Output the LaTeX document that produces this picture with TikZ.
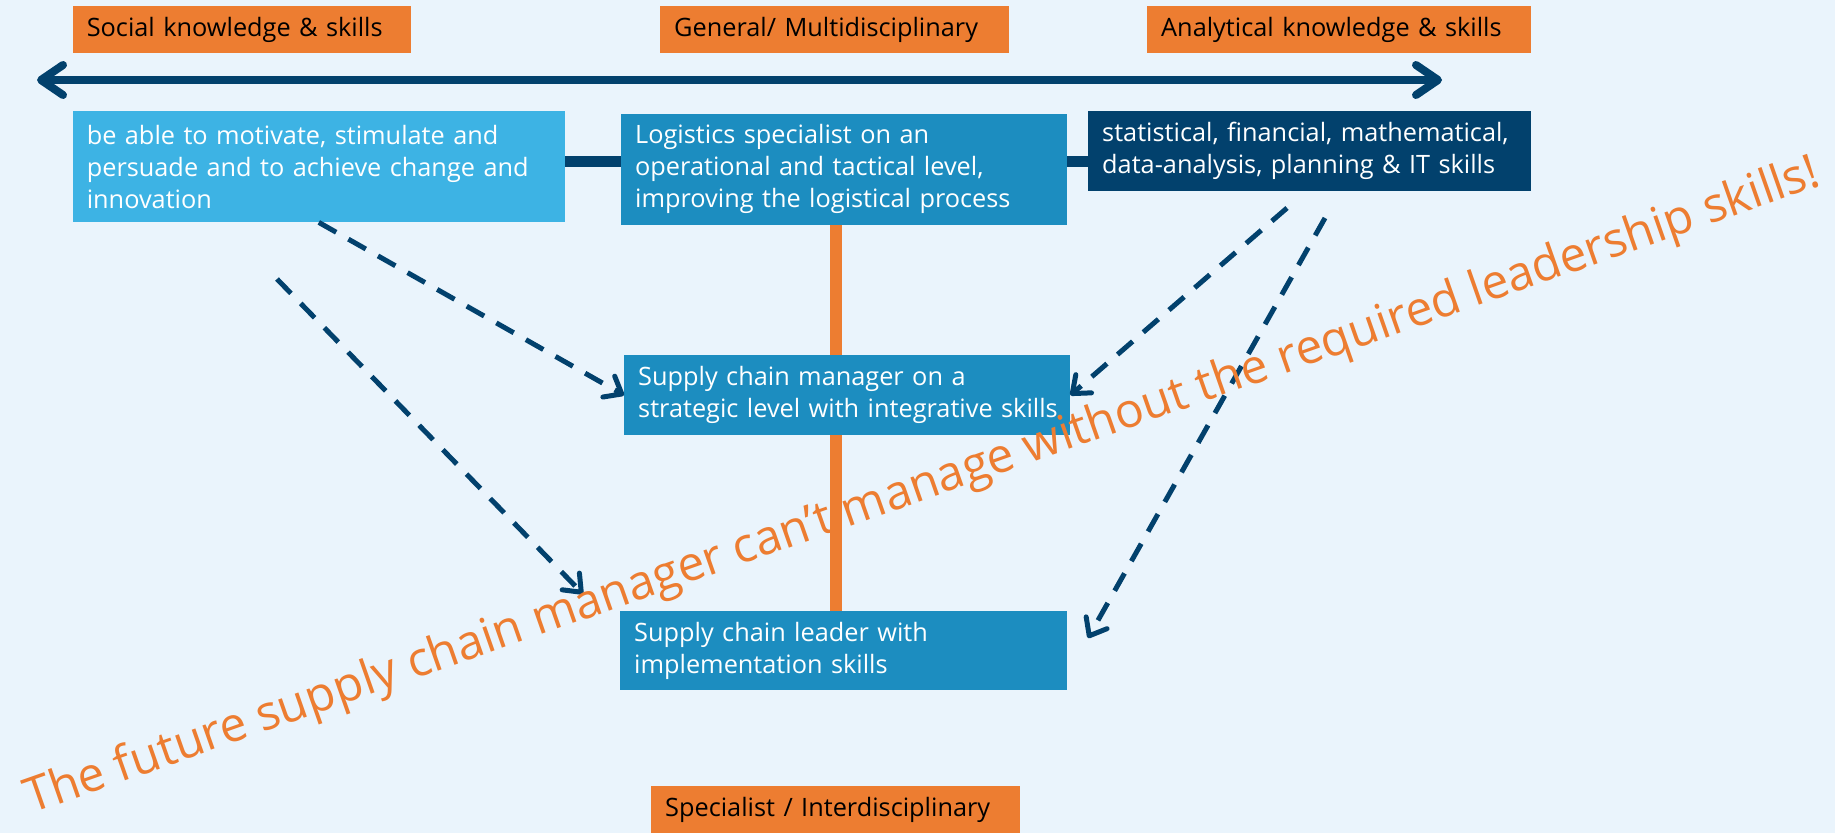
\documentclass[tikz,border=0pt]{standalone}
\usepackage{fontspec}
\setmainfont{Open Sans}
\usepackage{tikz}
\usetikzlibrary{arrows.meta,positioning,calc,backgrounds}
\definecolor{skyblue}{HTML}{3DB3E4}
\definecolor{midblue}{HTML}{1C8DC0}
\definecolor{navy}{HTML}{02416D}
\definecolor{tangerine}{HTML}{ED7D31}
\definecolor{paleblue}{HTML}{EAF4FC}
\pgfdeclarelayer{lines}
\pgfsetlayers{background,lines,main}

\begin{document}
\begin{tikzpicture}[x=1pt,y=-1pt,
  head node/.style={fill=tangerine,text=black,anchor=north west,align=left,inner xsep=14pt,inner ysep=0pt,minimum height=47pt,font=\fontsize{25.3}{32}\selectfont},
  skill node/.style={anchor=north west,text=white,align=left,inner xsep=14pt,inner ysep=0pt,font=\fontsize{25.3}{32}\selectfont},
  dash arrow/.style={navy,line width=5pt,dash pattern=on 20pt off 14pt,-{Straight Barb[length=15pt,width=24pt,round]}}]
	\useasboundingbox (0,0) rectangle (1835,833);
	\begin{pgfonlayer}{background}
		\fill[paleblue] (0,0) rectangle (1835,833);
	\end{pgfonlayer}
					\node[head node,text width=310pt] (social) at (72.6,6) {Social knowledge \& skills};
					\node[head node,text width=321pt] (general) at (660,6) {General/ Multidisciplinary};
					\node[head node,text width=356pt] (analytical) at (1147,6) {Analytical knowledge \& skills};
					\node[head node,text width=341pt] (specialist) at (651,786) {Specialist / Interdisciplinary};
					\node[skill node,fill=skyblue,text width=464pt,minimum height=111pt] (soc) at (72.6,111) {be able to motivate, stimulate and\\persuade and to achieve change and\\innovation};
					\node[skill node,fill=midblue,text width=418pt,minimum height=111pt] (logi) at (621,113.5) {Logistics specialist on an\\operational and tactical level,\\improving the logistical process};
					\node[skill node,fill=navy,text width=415pt,minimum height=80pt] (ana) at (1088,111) {statistical, financial, mathematical,\\data-analysis, planning \& IT skills};
					\node[skill node,fill=midblue,text width=418pt,minimum height=80pt] (strat) at (624,355) {Supply chain manager on a\\\mbox{strategic level with integrative skills}};
					\node[skill node,fill=midblue,text width=419pt,minimum height=79pt] (lead) at (620,611) {Supply chain leader with\\implementation skills};
					\coordinate (westend) at (37,80);
					\coordinate (eastend) at (1442,80);
					\coordinate (linky) at (0,161);
					\coordinate (spine) at (835.6,0);
					\coordinate (s1) at (277,279);
					\coordinate (e1) at (583,594);
					\coordinate (s3) at (1287,208);
					\coordinate (s4) at (1325,218);
					\coordinate (e4) at (1088,638);
	\begin{pgfonlayer}{lines}
		\draw[tangerine,line width=12pt] (logi.south -| spine) -- (lead.north -| spine);
		\draw[navy,line width=11pt] (soc.east |- linky) -- (logi.west |- linky)
			(logi.east |- linky) -- (ana.west |- linky);
	\end{pgfonlayer}
				\draw[navy,line width=8pt,{Straight Barb[length=22pt,width=30pt,round]}-{Straight Barb[length=22pt,width=30pt,round]}] (westend) -- (eastend);
				\path[dash arrow]
					(soc.south) edge (strat.west)
					(s1) edge (e1)
					(s3) edge (strat.east)
					(s4) edge (e4);
					\node[tangerine,font=\fontsize{47.9}{56}\selectfont,rotate=19.35,anchor=base west,inner sep=0pt] (motto) at (31,814) {The future supply chain manager can't manage without the required leadership skills!};
\end{tikzpicture}
\end{document}
